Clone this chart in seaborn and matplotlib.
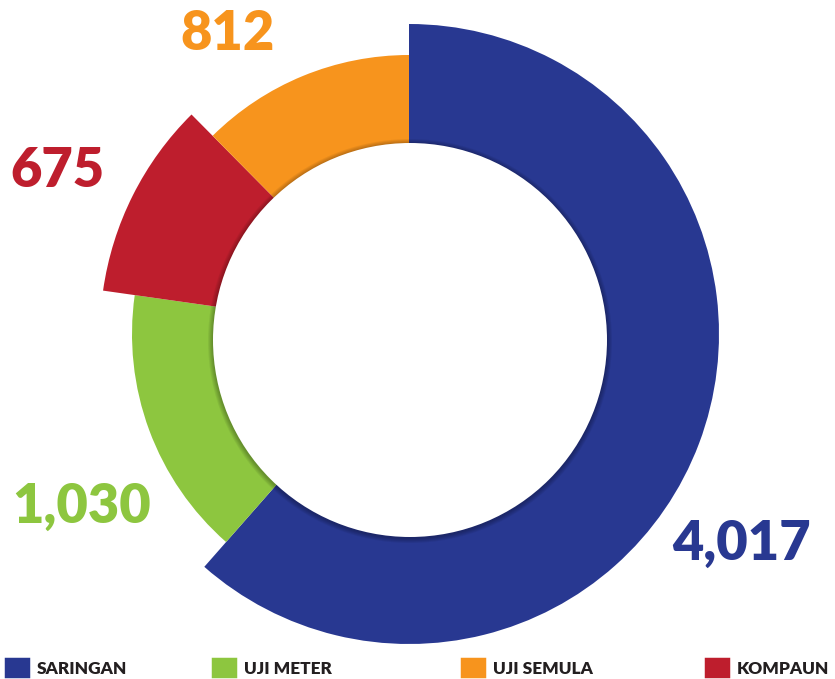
import matplotlib
matplotlib.use('Agg')
import matplotlib.pyplot as plt
from matplotlib.patches import Circle, Patch
import seaborn as sns

# slices in clockwise order starting at 12 o'clock
categories = ["SARINGAN", "UJI METER", "KOMPAUN", "UJI SEMULA"]
values = [4017, 1030, 675, 812]
value_labels = ["4,017", "1,030", "675", "812"]
legend_order = ["SARINGAN", "UJI METER", "UJI SEMULA", "KOMPAUN"]

colors = dict(zip(categories, sns.color_palette(["#283891", "#8dc63f", "#be1e2d", "#f7941d"])))
outer_r = {"SARINGAN": 310, "UJI METER": 277, "KOMPAUN": 309, "UJI SEMULA": 279}

sns.set_theme(style="white")
plt.rcParams['font.family'] = ['Lato', 'DejaVu Sans']

W, H = 835, 679
fig = plt.figure(figsize=(W / 100, H / 100), dpi=100)
ax = fig.add_axes([0, 0, 1, 1])

cx, cy = 409, H - 334
wedges, _ = ax.pie(values, colors=[colors[c] for c in categories], startangle=90,
                   counterclock=False, radius=310, center=(cx, cy),
                   wedgeprops=dict(width=130, linewidth=0))
for w, cat in zip(wedges, categories):
    w.set_radius(outer_r[cat])
    w.set_width(outer_r[cat] - 180)

# white hole with a soft shadow around it
hx, hy, hr = 410, H - 340, 197
for k in range(5, 0, -1):
    ax.add_patch(Circle((hx, hy - 1), hr + k, facecolor="#000000", alpha=0.06,
                        edgecolor="none", zorder=3))
ax.add_patch(Circle((hx, hy), hr, facecolor="white", edgecolor="none", zorder=4))

# value labels
label_pos = {"SARINGAN": (741, 560), "UJI METER": (82, 523),
             "KOMPAUN": (57, 187), "UJI SEMULA": (228, 50)}
for cat, txt in zip(categories, value_labels):
    x, y = label_pos[cat]
    ax.text(x, H - y, txt, color=colors[cat], fontsize=39, fontweight='heavy',
            ha='center', va='baseline')

ax.set_xlim(0, W)
ax.set_ylim(0, H)
ax.set_aspect('equal')
ax.axis('off')

# legend entries along the bottom
legend_x = {"SARINGAN": 5, "UJI METER": 212, "UJI SEMULA": 461, "KOMPAUN": 705}
for cat in legend_order:
    h = Patch(facecolor=colors[cat], edgecolor=colors[cat], linewidth=2.5, joinstyle='round')
    fig.legend(handles=[h], labels=[cat], loc='center left', frameon=False,
               bbox_to_anchor=((legend_x[cat] + 1) / W, 1 - 668 / H),
               borderpad=0, borderaxespad=0, handlelength=1.25, handleheight=1.1,
               handletextpad=0.55, prop=dict(size=12.4, weight='heavy'),
               labelcolor="#231f20")

fig.savefig("out.png", dpi=100, facecolor="white")
